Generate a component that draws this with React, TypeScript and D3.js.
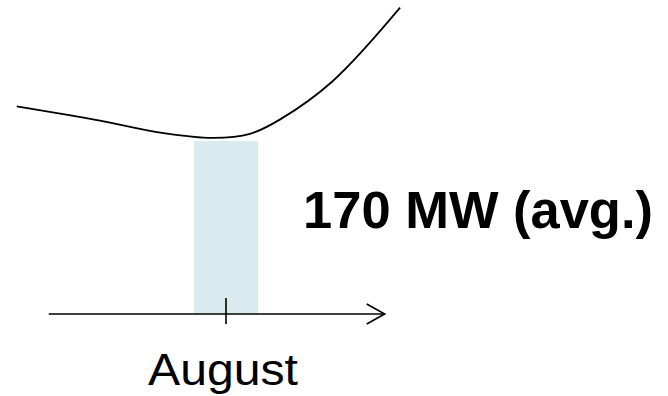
import React from "react";
import * as d3 from "d3";

// Load curve: month (fractional) vs load (MW)
const curveMonths = [4.73, 6.03, 7.0, 7.8, 8.375, 8.84, 9.67, 10.72];
const curveLoads = [204, 190, 178, 173, 177, 191, 229, 301];

// Highlighted month band
const bandMonth = 8; // August
const bandLoad = 170; // average MW
const bandLabel = "August";
const valueLabel = "170 MW (avg.)";
const axisStartMonth = 5.23;
const axisEndMonth = 10.48;

const W = 668;
const H = 396;

export default function App() {
  const x = d3.scaleLinear().domain([8, 9]).range([226, 290]);
  const y = d3.scaleLinear().domain([0, 170]).range([314, 141]);

  const pts: [number, number][] = curveMonths.map((m, i) => [x(m), y(curveLoads[i])]);
  const line = d3
    .line<[number, number]>()
    .x((d) => d[0])
    .y((d) => d[1])
    .curve(d3.curveCatmullRom.alpha(0.5));

  const bx0 = x(bandMonth - 0.5);
  const bx1 = x(bandMonth + 0.5);
  const axY = y(0);
  const ax0 = x(axisStartMonth);
  const ax1 = x(axisEndMonth);
  const tx = x(bandMonth);

  return (
    <svg
      width={W}
      height={H}
      style={{ position: "absolute", left: 0, top: 0, background: "#fff" }}
      fontFamily="'Liberation Sans', Arial, sans-serif"
    >
      <rect x={bx0} y={y(bandLoad)} width={bx1 - bx0} height={axY - y(bandLoad)} fill="#d9ebee" />
      <path d={line(pts) || ""} fill="none" stroke="#000" strokeWidth={1.8} />
      <line x1={ax0} x2={ax1} y1={axY} y2={axY} stroke="#000" strokeWidth={1.6} />
      <polyline
        points={`${ax1 - 18},${axY - 10} ${ax1},${axY} ${ax1 - 18},${axY + 10}`}
        fill="none"
        stroke="#000"
        strokeWidth={1.6}
      />
      <line x1={tx} x2={tx} y1={axY - 16} y2={axY + 10} stroke="#000" strokeWidth={1.6} />
      <text
        x={223}
        y={385}
        fontSize={45}
        textAnchor="middle"
        textLength={150}
        lengthAdjust="spacingAndGlyphs"
        fill="#000"
      >
        {bandLabel}
      </text>
      <text
        x={303}
        y={228}
        fontSize={51}
        fontWeight="bold"
        textLength={350}
        lengthAdjust="spacingAndGlyphs"
        fill="#000"
      >
        {valueLabel}
      </text>
    </svg>
  );
}
